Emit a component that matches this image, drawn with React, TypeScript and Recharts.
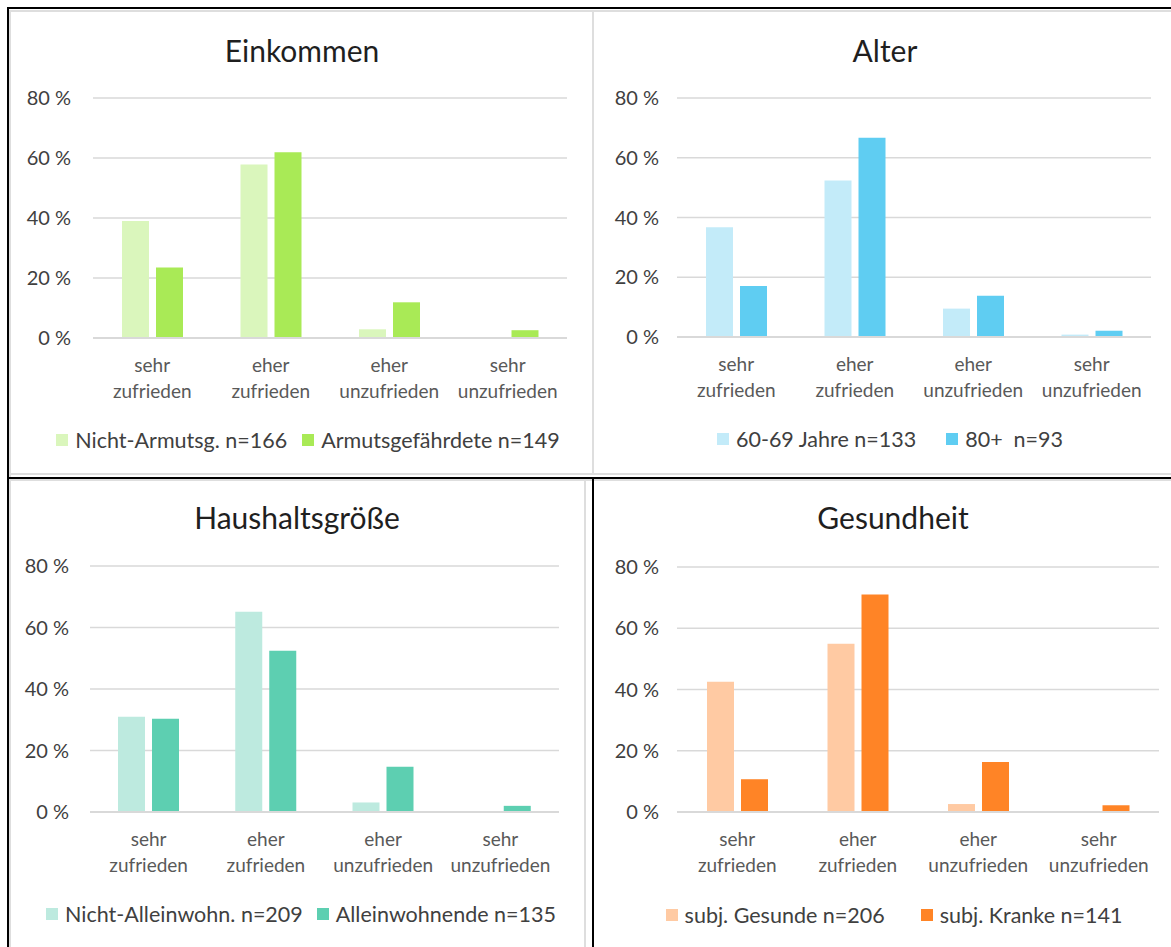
import React from "react";
import { Bar, BarChart, CartesianGrid, Legend, XAxis, YAxis } from "recharts";

const categories = ["sehr zufrieden", "eher zufrieden", "eher unzufrieden", "sehr unzufrieden"];
const yTicks = [0, 20, 40, 60, 80];

const einkommenNicht = [39.0, 57.8, 2.9, 0];
const einkommenArm = [23.5, 61.9, 11.9, 2.6];
const alterJung = [36.7, 52.4, 9.5, 0.8];
const alterAlt = [17.1, 66.7, 13.8, 2.1];
const haushaltNicht = [31.0, 65.1, 3.1, 0];
const haushaltAllein = [30.3, 52.4, 14.7, 2.0];
const gesundGesund = [42.5, 54.9, 2.6, 0];
const gesundKrank = [10.7, 71.0, 16.3, 2.2];

const FONT = "Lato, 'Open Sans', sans-serif";
const GRID = "#d9d9d9";
const Y_AXIS_W = 70;
const X_AXIS_H = 70;

function CategoryTick({ x, y, payload }: any) {
  const label: string = payload.value;
  const cut = label.indexOf(" ");
  return (
    <text x={x} y={y} textAnchor="middle" fill="#595959" fontSize={19} fontFamily={FONT}>
      <tspan x={x} dy={34}>{label.slice(0, cut)}</tspan>
      <tspan x={x} dy={26}>{label.slice(cut + 1)}</tspan>
    </text>
  );
}

function LegendRow({ payload, gap }: any) {
  return (
    <div style={{ display: "flex", justifyContent: "center", alignItems: "center", height: 30, fontFamily: FONT, fontSize: 21.5, color: "#404040", whiteSpace: "pre" }}>
      {(payload || []).map((p: any, i: number) => (
        <div key={p.value} style={{ display: "flex", alignItems: "center", marginLeft: i === 0 ? 0 : gap }}>
          <span style={{ width: 12, height: 12, background: p.color, marginRight: 7, display: "inline-block" }} />
          <span>{p.value}</span>
        </div>
      ))}
    </div>
  );
}

interface PanelProps {
  title: string;
  names: [string, string];
  first: number[];
  second: number[];
  colors: [string, string];
  left: number;
  top: number;
  w: number;
  h: number;
  plotLeft: number;
  plotRight: number;
  plotTop: number;
  plotBottom: number;
  tickGap: number;
  titleX: number;
  titleY: number;
  legendX: number;
  legendY: number;
  legendGap: number;
}

function Panel(p: PanelProps) {
  const data = categories.map((name, i) => ({ name, first: p.first[i], second: p.second[i] }));
  return (
    <div style={{ position: "absolute", left: p.left, top: p.top, width: p.w, height: p.h }}>
      <div
        style={{
          position: "absolute",
          left: p.titleX,
          top: p.titleY,
          transform: "translate(-50%, -50%)",
          fontFamily: FONT,
          fontSize: 30,
          color: "#1f1f1f",
          whiteSpace: "nowrap"
        }}
      >
        {p.title}
      </div>
      <BarChart
        width={p.w}
        height={p.h}
        data={data}
        barSize={27}
        barGap={7}
        margin={{
          top: p.plotTop,
          right: p.w - p.plotRight,
          left: p.plotLeft - Y_AXIS_W,
          bottom: p.h - p.plotBottom - X_AXIS_H
        }}
      >
        <CartesianGrid vertical={false} stroke={GRID} strokeWidth={1.5} />
        <XAxis
          dataKey="name"
          height={X_AXIS_H}
          interval={0}
          tickLine={false}
          tickSize={0}
          tickMargin={0}
          axisLine={{ stroke: GRID, strokeWidth: 2 }}
          tick={<CategoryTick />}
        />
        <YAxis
          width={Y_AXIS_W}
          domain={[0, 80]}
          ticks={yTicks}
          interval={0}
          axisLine={false}
          tickLine={false}
          tickSize={0}
          tickMargin={p.tickGap}
          tickFormatter={(v: number) => `${v} %`}
          tick={{ fill: "#404040", fontSize: 20, fontFamily: FONT }}
        />
        <Legend
          verticalAlign="middle"
          align="center"
          layout="horizontal"
          itemSorter="dataKey"
          wrapperStyle={{ top: p.legendY - 15, left: p.legendX - 300, width: 600, height: 30 }}
          content={(props: any) => <LegendRow payload={props.payload} gap={p.legendGap} />}
        />
        <Bar dataKey="first" name={p.names[0]} fill={p.colors[0]} isAnimationActive={false} />
        <Bar dataKey="second" name={p.names[1]} fill={p.colors[1]} isAnimationActive={false} />
      </BarChart>
    </div>
  );
}

// frame lines around the four panels: [left, top, width, height, colour]
const frame: [number, number, number, number, string][] = [
  [9, 10, 1162, 2, "#dedede"],
  [9, 10, 2, 937, "#dedede"],
  [592, 10, 2, 465, "#dedede"],
  [9, 473, 1162, 2, "#dedede"],
  [9, 479, 583, 2, "#dedede"],
  [584, 479, 2, 468, "#dedede"],
  [594, 479, 577, 2, "#dedede"],
  [7, 7, 1164, 2, "#000"],
  [7, 7, 2, 940, "#000"],
  [7, 477, 1164, 2, "#000"],
  [592, 477, 2, 470, "#000"]
];

export default function App() {
  return (
    <div style={{ position: "absolute", left: 0, top: 0, width: 1171, height: 947, background: "#fff", overflow: "hidden" }}>
      {frame.map(([l, t, w, h, c], i) => (
        <div key={i} style={{ position: "absolute", left: l, top: t, width: w, height: h, background: c }} />
      ))}
      <Panel
        title="Einkommen"
        names={["Nicht-Armutsg. n=166", "Armutsgefährdete n=149"]}
        first={einkommenNicht}
        second={einkommenArm}
        colors={["#daf6bc", "#a9ea56"]}
        left={9}
        top={10}
        w={583}
        h={465}
        plotLeft={84}
        plotRight={558}
        plotTop={88}
        plotBottom={328}
        tickGap={22}
        titleX={293}
        titleY={40}
        legendX={299}
        legendY={430}
        legendGap={15}
      />
      <Panel
        title="Alter"
        names={["60-69 Jahre n=133", "80+  n=93"]}
        first={alterJung}
        second={alterAlt}
        colors={["#c3ebf9", "#5fcdf2"]}
        left={594}
        top={10}
        w={577}
        h={465}
        plotLeft={83}
        plotRight={557}
        plotTop={88}
        plotBottom={327}
        tickGap={18}
        titleX={291}
        titleY={40}
        legendX={296}
        legendY={429}
        legendGap={30}
      />
      <Panel
        title="Haushaltsgröße"
        names={["Nicht-Alleinwohn. n=209", "Alleinwohnende n=135"]}
        first={haushaltNicht}
        second={haushaltAllein}
        colors={["#bdeadf", "#5dcfb1"]}
        left={9}
        top={479}
        w={575}
        h={468}
        plotLeft={81}
        plotRight={550}
        plotTop={87}
        plotBottom={333}
        tickGap={21}
        titleX={288}
        titleY={38}
        legendX={292}
        legendY={435}
        legendGap={14}
      />
      <Panel
        title="Gesundheit"
        names={["subj. Gesunde n=206", "subj. Kranke n=141"]}
        first={gesundGesund}
        second={gesundKrank}
        colors={["#ffcaa3", "#ff8426"]}
        left={594}
        top={479}
        w={577}
        h={468}
        plotLeft={83}
        plotRight={565}
        plotTop={88}
        plotBottom={333}
        tickGap={18}
        titleX={299}
        titleY={38}
        legendX={300}
        legendY={436}
        legendGap={36}
      />
    </div>
  );
}
